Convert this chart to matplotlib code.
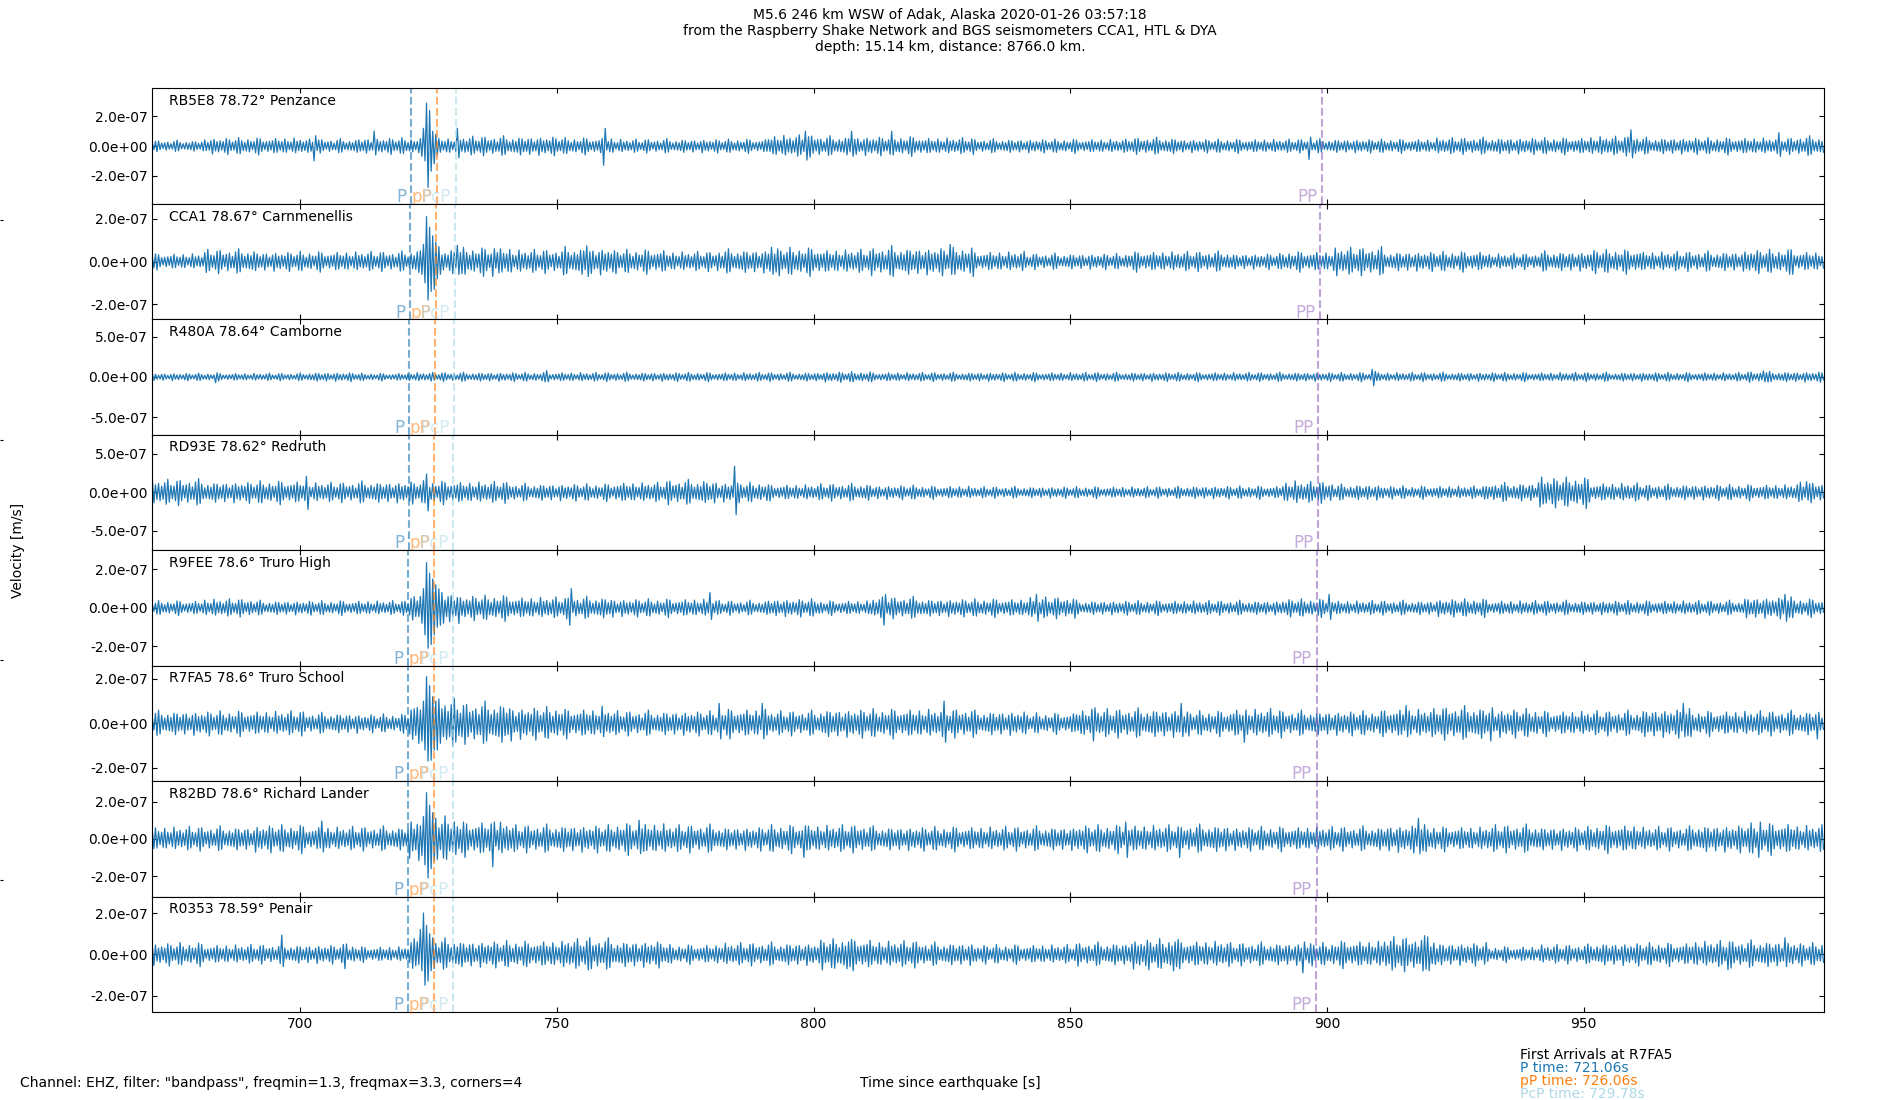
import numpy as np
import matplotlib
matplotlib.use("Agg")
import matplotlib.pyplot as plt
import matplotlib.transforms as mtransforms
from matplotlib.ticker import FormatStrFormatter

# ---------------- data ----------------
T_START = 671.2
T_END = 996.8
BIN_W = 10.0      # width of each background-amplitude bin [s]
DT = 0.3          # spacing between successive half-cycle peaks [s]

LABELS = ["RB5E8 78.72° Penzance", "CCA1 78.67° Carnmenellis", "R480A 78.64° Camborne",
          "RD93E 78.62° Redruth", "R9FEE 78.6° Truro High", "R7FA5 78.6° Truro School",
          "R82BD 78.6° Richard Lander", "R0353 78.59° Penair"]

# y-axis half range and tick value, units of 1e-7 m/s
YLIM = [3.9, 2.7, 7.2, 7.5, 3.0, 2.6, 3.1, 2.8]
YTICK = [2, 2, 5, 5, 2, 2, 2, 2]

# background peak amplitude per 10 s bin, units of 1e-8 m/s
BG_RB5E8 = [4, 6, 6, 5, 6, 6, 7, 7, 6, 5, 5, 5, 8, 7, 7, 6, 5, 5, 5, 6, 5, 5, 5, 5, 5, 6, 6, 6, 7, 6, 6, 6, 7]
BG_CCA1 = [4, 6, 5, 5, 5, 6, 7, 6, 7, 6, 5, 6, 7, 6, 7, 7, 5, 4, 4, 5, 5, 4, 5, 7, 5, 5, 4, 5, 6, 5, 5, 6, 5]
BG_R480A = [5, 5, 5, 6, 5, 6, 6, 6, 6, 6, 6, 6, 6, 7, 6, 6, 6, 6, 6, 6, 6, 6, 6, 6, 6, 6, 6, 6, 6, 6, 6, 7, 7]
BG_RD93E = [18, 15, 16, 14, 15, 16, 15, 12, 12, 14, 17, 14, 11, 12, 10, 9, 8, 8, 8, 8, 9, 9, 15, 11, 9, 9, 13, 21, 13, 11, 11, 11, 14]
BG_R9FEE = [4, 5, 4, 4, 4, 9, 7, 6, 6, 5, 5, 4, 5, 4, 6, 5, 5, 6, 4, 4, 4, 4, 5, 4, 4, 5, 4, 4, 4, 4, 4, 6, 5]
BG_R7FA5 = [6, 6, 6, 5, 4.5, 12, 10, 8, 7, 6, 6, 7, 6, 7, 7, 7, 6, 5, 7, 7, 6, 7, 6, 6, 7, 8, 7, 6, 6, 7, 6, 6, 6]
BG_R82BD = [7, 7, 8, 7, 7, 13, 10, 8, 8, 9, 8, 7, 8, 8, 7, 7, 7, 7, 8, 8, 8, 7, 7, 7, 8, 7, 8, 7, 8, 7, 8, 9, 8]
BG_R0353 = [6, 5, 5, 5, 4, 8, 7, 7, 8, 7, 5, 6, 6, 8, 7, 6, 5, 5, 6, 8, 7, 6, 6, 7, 9, 6, 4, 5, 6, 6, 7, 7, 6]

# relative size of successive half-cycle peaks (wave-packet shape)
PATTERN = [0.45, 0.6, 0.8, 0.95, 0.85, 0.6, 0.5, 0.4, 0.55, 0.7,
           0.65, 0.5, 0.4, 0.5, 0.75, 0.9, 1.0, 0.8, 0.6, 0.45,
           0.4, 0.5, 0.6, 0.55, 0.45, 0.6, 0.75, 0.85, 0.7, 0.55,
           0.45, 0.5, 0.65, 0.8, 0.7, 0.5, 0.4, 0.45, 0.6, 0.9,
           0.75, 0.55, 0.5, 0.65, 0.6, 0.45, 0.5, 0.7, 0.85, 0.95,
           0.7, 0.5, 0.45]

# distinct arrivals / spikes: (start time [s], successive peak values [1e-8 m/s])
EV_RB5E8 = [(702.6, [-10, 7]), (714.5, [10, -6]),
            (723.5, [5, -7, 12, -10, 29, -28, 24, -17, 10, -12, 8, -6]),
            (730.2, [12, -8]), (758.8, [-13, 12]), (798.2, [10, -9.5]), (807.5, [10, -7]),
            (814.8, [10, -6]), (896.3, [-9, 6]), (958.9, [11, -8]), (987.8, [9, -7])]
EV_CCA1 = [(723.2, [5, -6, 8, -10, 21, -18, 16, -14, 12, -13, 9, -8, 7, -6]),
           (730.2, [7.6, -6]), (737.6, [-7, 6]), (755.9, [7.3, -7]), (791.5, [6.7, -6]),
           (814.9, [7.5, -7]), (826.4, [8, -6]), (901.6, [6.3, -6.7]), (990.3, [5.5, -6])]
EV_R480A = [(683.3, [-7, 5]), (748.0, [8, -6]), (908.9, [9.5, -11, 7]), (985.0, [7.5, -6])]
EV_RD93E = [(701.0, [21, -22]), (724.6, [24, -24]), (778.3, [14, -13]), (784.6, [34, -29]),
            (893.5, [15, -13]), (941.5, [20, -15]), (993.5, [14, -10])]
EV_R9FEE = [(723.5, [6, -8, 10, -14, 23.5, -21, 18, -19, 15, -14, 12, -10, 10, -9, 8, -8]),
            (752.2, [-9, 10]), (779.4, [8, -6]), (813.8, [-9, 7]), (843.1, [7, -7]),
            (900.5, [7, -6]), (989.3, [7, -7])]
EV_R7FA5 = [(723.2, [6, -8, 10, -12, 21, -17, 17, -16.6, 12, -12, 10, -12, 11, -9]),
            (758.5, [7.7, -6]), (781.5, [9, -7]), (789.8, [9, -7]), (825.3, [10, -8.5]),
            (854.6, [-8, 7]), (871.3, [9, -6]), (883.8, [-8.5, 6]), (915.2, [8, -6]),
            (931.9, [-8, 7]), (969.5, [9, -6]), (995.5, [-7, 5])]
EV_R82BD = [(704.2, [9.6, -7]), (723.2, [7, -9, 12, -14, 24.8, -21, 18, -16, 14, -12, 11, -11]),
            (737.6, [-15, 9]), (765.8, [10, -8]), (798.2, [-10, 7]), (860.8, [9, -10]),
            (871.3, [-10, 6]), (917.7, [11, -8]), (984.1, [-10, 9])]
EV_R0353 = [(696.2, [9.3, -6]), (708.4, [-7, 5]),
            (722.7, [6, -5, 12, -8, 20, -15, 14, -13, 10, -8, 8, -7]),
            (743.9, [-6, 5]), (756.4, [8, -7]), (806.5, [-7, 6]), (870.2, [-8, 6]),
            (895.3, [-9, 6]), (919.3, [8.4, -8]), (977.8, [-7.5, 6]), (989.3, [8, -6])]

BACKGROUNDS = [BG_RB5E8, BG_CCA1, BG_R480A, BG_RD93E, BG_R9FEE, BG_R7FA5, BG_R82BD, BG_R0353]
EVENTS = [EV_RB5E8, EV_CCA1, EV_R480A, EV_RD93E, EV_R9FEE, EV_R7FA5, EV_R82BD, EV_R0353]

# phase arrival times per station [s]
ARR_P = [721.6, 721.4, 721.25, 721.15, 721.06, 721.06, 721.06, 721.0]
ARR_pP = [726.6, 726.4, 726.25, 726.15, 726.06, 726.06, 726.06, 726.0]
ARR_PcP = [730.25, 730.05, 729.95, 729.85, 729.78, 729.78, 729.78, 729.75]
ARR_PP = [899.0, 898.6, 898.3, 898.2, 897.95, 897.95, 897.95, 897.85]

PHASES = ["P", "pP", "PcP", "PP"]
PHASE_COLORS = ["C0", "C1", "lightblue", "C4"]
PHASE_TIMES = [ARR_P, ARR_pP, ARR_PcP, ARR_PP]

XTICKS = [700, 750, 800, 850, 900, 950]

TITLE = ("M5.6 246 km WSW of Adak, Alaska 2020-01-26 03:57:18\n"
         "from the Raspberry Shake Network and BGS seismometers CCA1, HTL & DYA\n"
         "depth: 15.14 km, distance: 8766.0 km.")
FILTER_TXT = 'Channel: EHZ, filter: "bandpass", freqmin=1.3, freqmax=3.3, corners=4'
FIRST_ARR = [("First Arrivals at R7FA5", "black"), ("P time: 721.06s", "C0"),
             ("pP time: 726.06s", "C1"), ("PcP time: 729.78s", "lightblue")]


def build_trace(bg, events, offset):
    n = int(round((T_END - T_START) / DT)) + 1
    idx = np.arange(n)
    t = T_START + DT * idx
    bins = np.minimum(((t - T_START) // BIN_W).astype(int), len(bg) - 1)
    amp = np.asarray(bg, dtype=float)[bins]
    mult = np.asarray(PATTERN)[(idx + offset) % len(PATTERN)]
    sign = np.where(idx % 2 == 0, 1.0, -1.0)
    v = sign * amp * mult
    for ts, peaks in events:
        k0 = int(round((ts - T_START) / DT))
        if np.sign(peaks[0]) != sign[k0]:
            k0 += 1
        for j, p in enumerate(peaks):
            if 0 <= k0 + j < n:
                v[k0 + j] = p
    return t, v * 1e-8


fig, axes = plt.subplots(len(LABELS), 1, figsize=(19, 11), dpi=100, sharex=True)
fig.subplots_adjust(left=0.0802, right=0.96, bottom=0.08, top=0.9197, hspace=0)

for i, ax in enumerate(axes):
    t, v = build_trace(BACKGROUNDS[i], EVENTS[i], offset=13 * i)
    ax.plot(t, v, color="C0", lw=0.9)
    lim = YLIM[i] * 1e-7
    ax.set_ylim(-lim, lim)
    tk = YTICK[i] * 1e-7
    ax.set_yticks([-tk, 0, tk])
    ax.yaxis.set_major_formatter(FormatStrFormatter("%.1e"))
    ax.tick_params(direction="in", top=True, right=True, labelsize=10)
    ax.text(0.01, 0.95, LABELS[i], transform=ax.transAxes, va="top", ha="left", fontsize=10)
    trans = mtransforms.blended_transform_factory(ax.transData, ax.transAxes)
    for name, col, times in zip(PHASES, PHASE_COLORS, PHASE_TIMES):
        ax.axvline(times[i], color=col, ls="--", lw=1.5, alpha=0.6)
        ax.text(times[i] - 0.9, -0.02, name, transform=trans, ha="right", va="bottom",
                color=col, alpha=0.55, fontsize=12)

axes[-1].set_xlim(T_START, T_END)
axes[-1].set_xticks(XTICKS)

fig.suptitle(TITLE, fontsize=10, y=0.993, va="top")
fig.text(0.0095, 0.5, "Velocity [m/s]", rotation=90, ha="center", va="center", fontsize=10)
fig.text(0.5, 0.0157, "Time since earthquake [s]", ha="center", va="center", fontsize=10)
fig.text(0.0105, 0.0157, FILTER_TXT, ha="left", va="center", fontsize=10)
for j, (txt, col) in enumerate(FIRST_ARR):
    fig.text(0.8, 0.041 - 0.0118 * j, txt, ha="left", va="center", fontsize=10, color=col)

# faint tick marks at the left figure edge (full-figure overlay axes)
ov = fig.add_axes([0, 0, 1, 1], frameon=False, zorder=-1)
ov.set_xticks([])
ov.set_yticks([0.2, 0.4, 0.6, 0.8])
ov.tick_params(axis="y", direction="in", length=2.5, labelleft=False)
ov.set_ylim(0, 1)
ov.patch.set_visible(False)

fig.savefig("out.png", dpi=100)
